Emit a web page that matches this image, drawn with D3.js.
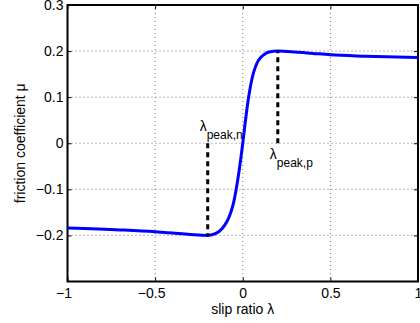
<!DOCTYPE html>
<html>
<head>
<meta charset="utf-8">
<script src="https://cdn.jsdelivr.net/npm/d3@7"></script>
<style>
  body { margin: 0; background: #fff; }
  svg { display: block; font-family: "Liberation Sans", Arial, sans-serif; }
</style>
</head>
<body>
<svg id="chart" width="420" height="323"></svg>
<script>
// slip ratio (x) and friction coefficient (y)
const slipRatio = [-1, -0.7, -0.5, -0.4, -0.3, -0.2, -0.15, -0.12, -0.1, -0.08, -0.07, -0.06, -0.05, -0.04, -0.03, -0.02, -0.01,
    0, 0.01, 0.02, 0.03, 0.04, 0.05, 0.06, 0.07, 0.08, 0.1, 0.12, 0.15, 0.2, 0.3, 0.4, 0.5, 0.7, 1];
const frictionCoeff = [-0.184, -0.188, -0.192, -0.195, -0.198, -0.2, -0.195, -0.186, -0.176, -0.162, -0.152, -0.14, -0.125, -0.105, -0.083, -0.058, -0.03,
    0, 0.032, 0.063, 0.091, 0.115, 0.135, 0.151, 0.163, 0.173, 0.185, 0.192, 0.198, 0.2, 0.198, 0.195, 0.192, 0.189, 0.186];

const xTicks = [-1, -0.5, 0, 0.5, 1];
const yTicks = [-0.2, -0.1, 0, 0.1, 0.2, 0.3];

// peak markers: slip ratio, peak value, label subscript
const peakSlip = [-0.2, 0.2];
const peakValue = [-0.2, 0.2];
const peakLabel = ["peak,n", "peak,p"];

const svg = d3.select("#chart");
const margin = { top: 5, right: 2, bottom: 41.5, left: 67.5 },
    width = +svg.attr("width") - margin.left - margin.right,
    height = +svg.attr("height") - margin.top - margin.bottom,
    g = svg.append("g").attr("transform", "translate(" + margin.left + "," + margin.top + ")");

const x = d3.scaleLinear().domain([-1, 1]).range([0, width]);
const y = d3.scaleLinear().domain([-0.3, 0.3]).range([height, 0]);

const fmt = d => d === 0 ? "0" : d3.format("")(d).replace("-", "\u2212");

// dotted grid
g.append("g")
    .selectAll("line")
    .data(xTicks.slice(1, -1))
    .enter().append("line")
    .attr("x1", d => x(d)).attr("x2", d => x(d))
    .attr("y1", 0).attr("y2", height)
    .attr("stroke", "#555").attr("stroke-width", 0.8)
    .attr("stroke-dasharray", "1,3");
g.append("g")
    .selectAll("line")
    .data(yTicks.slice(0, -1))
    .enter().append("line")
    .attr("y1", d => y(d)).attr("y2", d => y(d))
    .attr("x1", 0).attr("x2", width)
    .attr("stroke", "#555").attr("stroke-width", 0.8)
    .attr("stroke-dasharray", "1,3");

// axes with inward ticks
const xAxis = g.append("g")
    .attr("transform", "translate(0," + height + ")")
    .call(d3.axisBottom(x).tickValues(xTicks).tickSize(-4).tickPadding(7).tickFormat(fmt));
const xAxisTop = g.append("g")
    .call(d3.axisTop(x).tickValues(xTicks).tickSize(-4).tickFormat(""));
const yAxis = g.append("g")
    .call(d3.axisLeft(y).tickValues(yTicks).tickSize(-4).tickPadding(4).tickFormat(fmt));
const yAxisRight = g.append("g")
    .attr("transform", "translate(" + width + ",0)")
    .call(d3.axisRight(y).tickValues(yTicks).tickSize(-4).tickFormat(""));

[xAxis, xAxisTop, yAxis, yAxisRight].forEach(a => {
    a.select(".domain").remove();
    a.selectAll(".tick line").attr("stroke", "#000").attr("stroke-width", 1);
    a.selectAll("text").attr("font-size", 14).attr("fill", "#000")
        .attr("font-family", "'Liberation Sans', Arial, sans-serif");
});
// negative x labels sit a little left, as in the original
xAxis.selectAll(".tick text").attr("dx", d => d < 0 ? -4 : 0);

// frame
g.append("rect")
    .attr("width", width).attr("height", height)
    .attr("fill", "none").attr("stroke", "#000").attr("stroke-width", 2);

// friction curve
const points = slipRatio.map((s, i) => [s, frictionCoeff[i]]);
g.append("path")
    .datum(points)
    .attr("fill", "none")
    .attr("stroke", "#0000ff")
    .attr("stroke-width", 3)
    .attr("d", d3.line().x(d => x(d[0])).y(d => y(d[1])).curve(d3.curveMonotoneX));

// peak markers
g.append("g")
    .selectAll("line")
    .data(peakSlip)
    .enter().append("line")
    .attr("x1", d => x(d)).attr("x2", d => x(d))
    .attr("y1", y(0)).attr("y2", (d, i) => y(peakValue[i]))
    .attr("stroke", "#000").attr("stroke-width", 3)
    .attr("stroke-dasharray", "5,4");

const labels = g.append("g")
    .selectAll("text")
    .data(peakSlip)
    .enter().append("text")
    .attr("font-size", 14)
    .attr("x", d => x(d) - 8)
    .attr("y", (d, i) => i === 0 ? y(0) - 12 : y(0) + 16);
labels.append("tspan").text("\u03bb");
labels.append("tspan")
    .attr("dy", 8)
    .attr("font-size", 12)
    .text((d, i) => peakLabel[i]);

// axis titles
svg.append("text")
    .attr("x", margin.left + width / 2)
    .attr("y", 314)
    .attr("text-anchor", "middle")
    .attr("font-size", 14)
    .text("slip ratio \u03bb");

svg.append("text")
    .attr("transform", "translate(25," + (margin.top + height / 2) + ") rotate(-90)")
    .attr("text-anchor", "middle")
    .attr("font-size", 14)
    .text("friction coefficient \u03bc");
</script>
</body>
</html>
